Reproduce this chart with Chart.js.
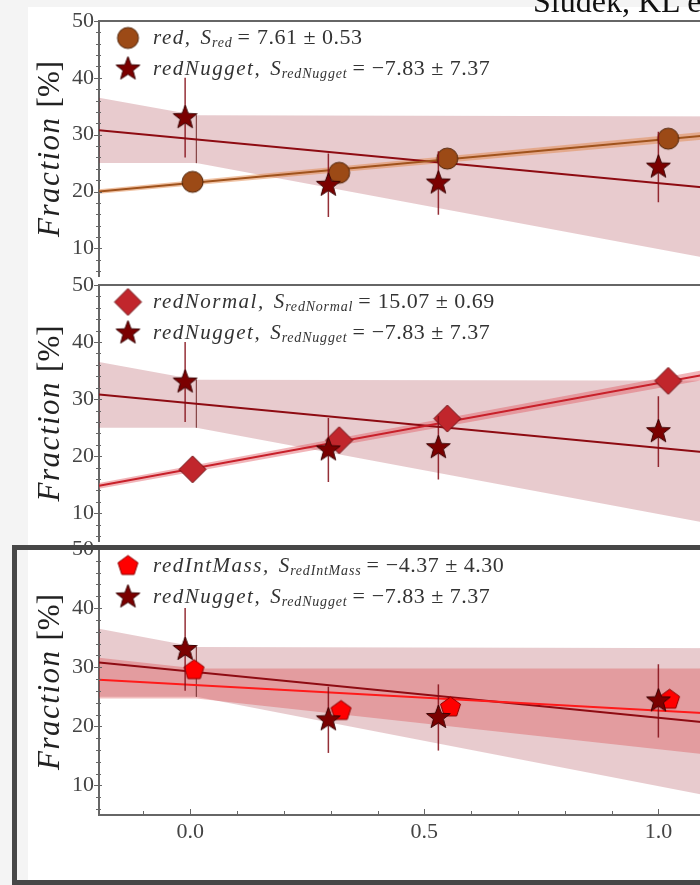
<!DOCTYPE html>
<html>
<head>
<meta charset="utf-8">
<script src="https://cdn.jsdelivr.net/npm/chart.js@4/dist/chart.umd.min.js"></script>
<style>
  body { margin: 0; width: 700px; height: 885px; overflow: hidden; background: #fff; position: relative; }
  .strip-top { position: absolute; left: 0; top: 0; width: 700px; height: 7px; background: #f4f4f4; }
  .strip-left { position: absolute; left: 0; top: 0; width: 28px; height: 885px; background: #f4f4f4; }
  canvas.panel { position: absolute; left: 0; }
  #frame { position: absolute; left: 12px; top: 545px; width: 800px; height: 330px; border: 5px solid #474747; z-index: 5; }
  #cite { position: absolute; left: 533px; top: -15px; font: 32px "Liberation Serif", serif; line-height: 32px; color: #111; white-space: nowrap; z-index: 6; }
</style>
</head>
<body>
<div class="strip-top"></div>
<div class="strip-left"></div>
<div id="cite">Siudek, KL et al.</div>
<canvas id="p1" class="panel" width="760" height="295" style="top:0px"></canvas>
<canvas id="p2" class="panel" width="760" height="295" style="top:265px"></canvas>
<canvas id="p3" class="panel" width="760" height="356" style="top:529px"></canvas>
<div id="frame"></div>
<script>
'use strict';

// ── Axes ─────────────────────────────────────────────
const X_MIN = -0.195, X_MAX = 1.2;
const Y_MIN = 5, Y_MAX = 50;
const yTickValues = [10, 20, 30, 40, 50];
const xTickValues = [0.0, 0.5, 1.0];

// ── Measured fractions per log(1+delta) bin ──────────
const xSample   = [0.005, 0.318, 0.549, 1.021];
const xIntMass  = [0.008, 0.322, 0.556, 1.024];
const xNugget   = [-0.011, 0.295, 0.530, 1.000];

const redFrac        = [21.7, 23.3, 25.8, 29.3];
const redNormalFrac  = [17.7, 22.8, 26.6, 33.2];
const redIntMassFrac = [29.5, 22.6, 23.2, 24.5];
const redNuggetFrac  = [33.0, 21.1, 21.5, 24.3];
const redNuggetErr   = [7.0, 5.6, 5.6, 6.2];

// ── Fitted lines (value at X_MIN and X_MAX) ─────────
const fitX          = [X_MIN, X_MAX];
const redFit        = [20.0, 30.6];
const redNormalFit  = [14.8, 35.8];
const redIntMassFit = [27.9, 21.8];
const redNuggetFit  = [30.8, 19.9];

// ── Confidence bands ────────────────────────────────
const redBandHi    = [20.4, 31.3];
const redBandLo    = [19.6, 29.9];
const normalBandHi = [15.3, 36.7];
const normalBandLo = [14.3, 34.9];
const bandX          = [X_MIN, 0.013, X_MAX];
const nuggetBandHi   = [36.5, 33.4, 33.2];
const nuggetBandLo   = [25.0, 25.0, 6.8];
const intMassBandHi  = [31.6, 29.8, 29.8];
const intMassBandLo  = [24.7, 24.7, 14.4];
const nuggetEdgeX    = [0.013, 0.013];
const nuggetEdgeY    = [33.4, 25.0];

// ── Legend text ─────────────────────────────────────
const slopeText = {
  red: '7.61 ± 0.53',
  redNormal: '15.07 ± 0.69',
  redIntMass: '−4.37 ± 4.30',
  redNugget: '−7.83 ± 7.37'
};

const AXIS = '#666';
const SERIF = '"Liberation Serif", serif';
const pts = (xs, ys) => xs.map((x, i) => ({ x, y: ys[i] }));

// ── Marker bitmaps ──────────────────────────────────
function marker(kind, fill, edge, r) {
  const s = Math.ceil(r * 2 + 4);
  const c = document.createElement('canvas');
  c.width = s; c.height = s;
  const g = c.getContext('2d');
  const m = s / 2;
  g.beginPath();
  if (kind === 'circle') {
    g.arc(m, m, r, 0, Math.PI * 2);
  } else if (kind === 'diamond') {
    g.moveTo(m, m - r); g.lineTo(m + r, m); g.lineTo(m, m + r); g.lineTo(m - r, m); g.closePath();
  } else {
    const n = kind === 'star' ? 10 : 5;
    for (let i = 0; i < n; i++) {
      const rr = (kind === 'star' && i % 2) ? r * 0.42 : r;
      const a = -Math.PI / 2 + i * 2 * Math.PI / n;
      const px = m + rr * Math.cos(a), py = m + rr * Math.sin(a);
      if (i === 0) g.moveTo(px, py); else g.lineTo(px, py);
    }
    g.closePath();
  }
  g.fillStyle = fill; g.fill();
  g.lineWidth = 1; g.strokeStyle = edge; g.stroke();
  return c;
}

const starM     = marker('star', '#7b0000', '#3a0000', 12.5);
const circleM   = marker('circle', '#9c4a16', '#4d2208', 10.5);
const diamondM  = marker('diamond', '#c1262c', '#6b0f12', 13.5);
const pentagonM = marker('pentagon', '#ff0000', '#8b0000', 10.5);

// ── Decorations: error bars, spines, minor ticks, legend, axis titles ──
function drawRuns(ctx, runs, x, y) {
  runs.forEach(r => {
    ctx.font = r.font;
    ctx.letterSpacing = r.ls || '0px';
    ctx.fillText(r.t, x, y + (r.dy || 0));
    x += ctx.measureText(r.t).width + (r.gap || 0);
  });
  ctx.letterSpacing = '0px';
  return x;
}

function runsWidth(ctx, runs) {
  let w = 0;
  runs.forEach(r => {
    ctx.font = r.font;
    ctx.letterSpacing = r.ls || '0px';
    w += ctx.measureText(r.t).width + (r.gap || 0);
  });
  ctx.letterSpacing = '0px';
  return w;
}

const IT  = 'italic 21px ' + SERIF;
const SUB = 'italic 14px ' + SERIF;
const RM  = '22px ' + SERIF;

const decor = {
  id: 'decor',
  beforeDatasetDraw(chart, args) {
    const ds = chart.data.datasets[args.index];
    if (!ds.errors) return;
    const { ctx, chartArea: a, scales: { x, y } } = chart;
    ctx.save();
    ctx.beginPath(); ctx.rect(a.left, a.top, a.right - a.left, a.bottom - a.top); ctx.clip();
    ctx.strokeStyle = 'rgba(130,10,20,0.85)';
    ctx.lineWidth = 1.5;
    ds.data.forEach((p, i) => {
      const px = x.getPixelForValue(p.x);
      ctx.beginPath();
      ctx.moveTo(px, y.getPixelForValue(p.y - ds.errors[i]));
      ctx.lineTo(px, y.getPixelForValue(p.y + ds.errors[i]));
      ctx.stroke();
    });
    ctx.restore();
  },
  afterDraw(chart, args, opts) {
    const { ctx, chartArea: a, scales: { x, y } } = chart;
    ctx.save();
    // top spine
    ctx.strokeStyle = AXIS; ctx.lineWidth = 2;
    ctx.beginPath(); ctx.moveTo(a.left, a.top); ctx.lineTo(a.right, a.top); ctx.stroke();
    // y ticks, every 2 units
    ctx.lineWidth = 1;
    for (let v = Y_MIN + 1; v <= Y_MAX; v += 2) {
      const py = Math.round(y.getPixelForValue(v)) + 0.5;
      ctx.beginPath(); ctx.moveTo(a.left - 3, py); ctx.lineTo(a.left + 2, py); ctx.stroke();
    }
    yTickValues.forEach(v => {
      const py = Math.round(y.getPixelForValue(v)) + 0.5;
      ctx.beginPath(); ctx.moveTo(a.left - 5, py); ctx.lineTo(a.left + 3, py); ctx.stroke();
    });
    // x ticks pointing in (bottom panel only)
    if (opts.xTicks) {
      for (let k = -1; k <= 11; k++) {
        const px = Math.round(x.getPixelForValue(k / 10)) + 0.5;
        const len = k % 5 === 0 ? 6 : 4;
        ctx.beginPath(); ctx.moveTo(px, a.bottom); ctx.lineTo(px, a.bottom - len); ctx.stroke();
      }
    }
    // legend
    ctx.fillStyle = '#333';
    ctx.textBaseline = 'middle';
    ctx.textAlign = 'left';
    opts.legend.forEach((e, i) => {
      const cy = a.top + 17 + i * 31;
      const m = e.marker;
      ctx.drawImage(m, a.left + 29 - m.width / 2, cy - m.height / 2);
      drawRuns(ctx, [
        { t: e.name + ',', font: IT, ls: '1.5px', gap: 9 },
        { t: 'S', font: IT, ls: '1px' },
        { t: e.name, font: SUB, dy: 5, ls: '0.8px', gap: 5 },
        { t: '=', font: RM, gap: 7 },
        { t: slopeText[e.name], font: RM, ls: '0.5px' }
      ], a.left + 54, cy);
    });
    // y title
    const yt = [
      { t: 'Fraction', font: 'italic 31px ' + SERIF, ls: '1.5px', gap: 9 },
      { t: '[%]', font: '31px ' + SERIF }
    ];
    const w = runsWidth(ctx, yt);
    ctx.save();
    ctx.translate(51, (a.top + a.bottom) / 2);
    ctx.rotate(-Math.PI / 2);
    ctx.fillStyle = '#222';
    drawRuns(ctx, yt, -w / 2, 0);
    ctx.restore();
    // x title
    if (opts.xTitle) {
      const xt = [
        { t: 'log', font: 'italic 32px ' + SERIF, ls: '1px' },
        { t: '(1 + ', font: '32px ' + SERIF },
        { t: 'δ', font: 'italic 32px ' + SERIF },
        { t: ')', font: '32px ' + SERIF }
      ];
      const xw = runsWidth(ctx, xt);
      ctx.fillStyle = '#222';
      drawRuns(ctx, xt, 398 - xw / 2, 856);
    }
    ctx.restore();
  }
};

// ── Panel builder ───────────────────────────────────
function buildPanel(id, p) {
  const nug = { fill: 'rgba(150,20,30,0.22)', line: '#8e0b12' };
  const datasets = [
    // nugget band
    { data: pts(bandX, nuggetBandLo), borderWidth: 0, pointRadius: 0, fill: false, order: 20 },
    { data: pts(bandX, nuggetBandHi), borderWidth: 0, pointRadius: 0, fill: '-1', backgroundColor: nug.fill, order: 20 },
    // sample band
    { data: pts(p.bandX, p.bandLo), borderWidth: 0, pointRadius: 0, fill: false, order: 19 },
    { data: pts(p.bandX, p.bandHi), borderWidth: 0, pointRadius: 0, fill: '-1', backgroundColor: p.bandColor, order: 19 },
    // band edge
    { data: pts(nuggetEdgeX, nuggetEdgeY), borderColor: 'rgba(120,50,50,0.55)', borderWidth: 1, pointRadius: 0, order: 15 },
    // fitted lines
    { data: pts(fitX, redNuggetFit), borderColor: nug.line, borderWidth: 2, pointRadius: 0, order: 10 },
    { data: pts(fitX, p.fit), borderColor: p.lineColor, borderWidth: 2, pointRadius: 0, order: 9 },
    // points
    { data: pts(p.xs, p.ys), showLine: false, pointStyle: p.marker, pointRadius: 10, order: 3 },
    { data: pts(xNugget, redNuggetFrac), errors: redNuggetErr, showLine: false, pointStyle: starM, pointRadius: 10, order: 1 }
  ];
  new Chart(document.getElementById(id), {
    type: 'line',
    data: { datasets },
    options: {
      responsive: false,
      animation: false,
      devicePixelRatio: 1,
      events: [],
      layout: { autoPadding: false, padding: { top: p.padTop, bottom: p.padBottom, left: 0, right: 8 } },
      elements: { line: { tension: 0 } },
      plugins: {
        legend: { display: false },
        tooltip: { enabled: false },
        decor: { legend: p.legend, xTicks: p.showX, xTitle: p.showX }
      },
      scales: {
        x: {
          type: 'linear', min: X_MIN, max: X_MAX, display: p.showX,
          grid: { display: false, drawTicks: false },
          border: { display: true, color: AXIS, width: 2 },
          ticks: { font: { family: SERIF, size: 22 }, color: '#444', padding: 4, maxRotation: 0,
                   callback: v => v.toFixed(1) },
          afterBuildTicks: s => { s.ticks = xTickValues.map(v => ({ value: v })); },
          afterFit: s => { if (p.showX) s.height = 70; }
        },
        y: {
          type: 'linear', min: Y_MIN, max: Y_MAX,
          grid: { display: false, drawTicks: false },
          border: { display: true, color: AXIS, width: 2 },
          ticks: { font: { family: SERIF, size: 22 }, color: '#444', padding: 5 },
          afterBuildTicks: s => { s.ticks = yTickValues.map(v => ({ value: v })); },
          afterFit: s => { s.width = 99; }
        }
      }
    },
    plugins: [decor]
  });
}

buildPanel('p1', {
  xs: xSample, ys: redFrac, marker: circleM, fit: redFit,
  bandX: fitX, bandLo: redBandLo, bandHi: redBandHi,
  bandColor: 'rgba(225,135,75,0.5)', lineColor: '#a0531d',
  legend: [{ name: 'red', marker: circleM }, { name: 'redNugget', marker: starM }],
  padTop: 21, padBottom: 10, showX: false
});
buildPanel('p2', {
  xs: xSample, ys: redNormalFrac, marker: diamondM, fit: redNormalFit,
  bandX: fitX, bandLo: normalBandLo, bandHi: normalBandHi,
  bandColor: 'rgba(225,90,100,0.45)', lineColor: '#c8202a',
  legend: [{ name: 'redNormal', marker: diamondM }, { name: 'redNugget', marker: starM }],
  padTop: 20, padBottom: 11, showX: false
});
buildPanel('p3', {
  xs: xIntMass, ys: redIntMassFrac, marker: pentagonM, fit: redIntMassFit,
  bandX: bandX, bandLo: intMassBandLo, bandHi: intMassBandHi,
  bandColor: 'rgba(215,60,65,0.33)', lineColor: '#ff1a1a',
  legend: [{ name: 'redIntMass', marker: pentagonM }, { name: 'redNugget', marker: starM }],
  padTop: 20, padBottom: 0, showX: true
});
</script>
</body>
</html>
